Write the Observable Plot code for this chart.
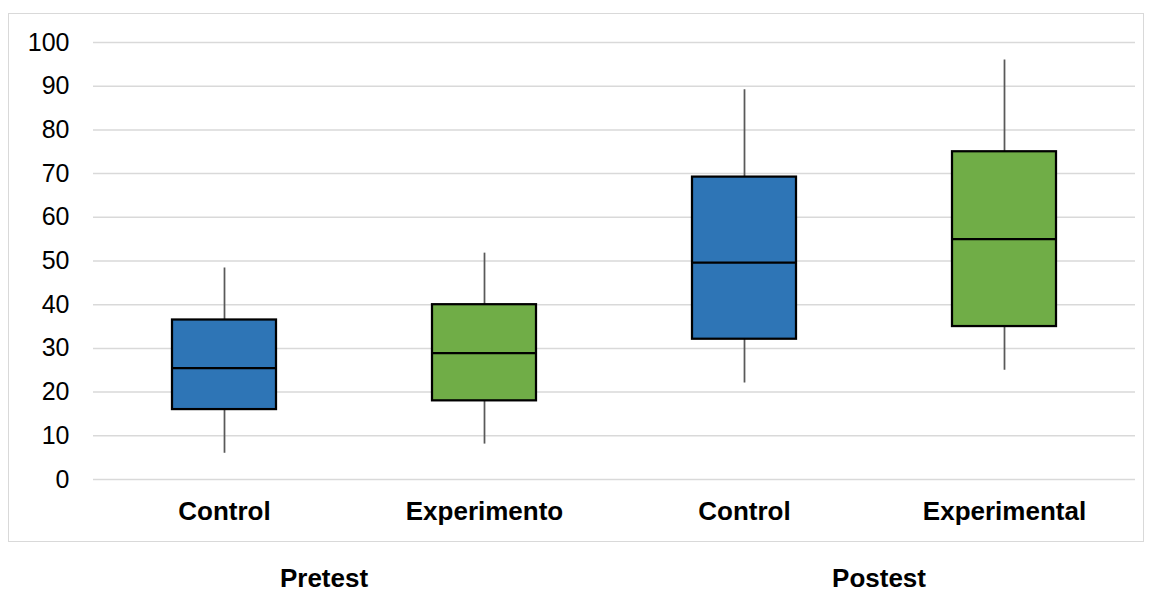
<!DOCTYPE html>
<html>
<head>
<meta charset="utf-8">
<script src="https://cdn.jsdelivr.net/npm/d3@7"></script>
<script src="https://cdn.jsdelivr.net/npm/@observablehq/plot@0.6"></script>
<style>
  html, body { margin: 0; padding: 0; background: #fff; overflow: hidden; }
  #wrap { position: relative; width: 1151px; height: 593px; font-family: "Liberation Sans", Arial, sans-serif; }
  #frame { position: absolute; left: 8px; top: 13px; width: 1134px; height: 527px; border: 1.5px solid #d9d9d9; box-sizing: content-box; pointer-events: none; }
  .grp { position: absolute; top: 567px; height: 22px; line-height: 22px; transform: translateX(-50%); font-weight: bold; font-size: 26px; color: #000; white-space: nowrap; }
</style>
</head>
<body>
<div id="wrap">
  <div id="chart"></div>
  <div id="frame"></div>
</div>
<script>
const groups   = ["Pretest", "Pretest", "Postest", "Postest"];
const labels   = ["Control", "Experimento", "Control", "Experimental"];
const mins     = [6.0, 8.1, 22.1, 25.0];
const q1s      = [16.0, 18.0, 32.1, 35.0];
const medians  = [25.5, 28.9, 49.6, 55.0];
const q3s      = [36.5, 40.0, 69.2, 75.0];
const maxs     = [48.4, 51.8, 89.2, 96.0];
const colors   = ["#2E75B6", "#70AD47", "#2E75B6", "#70AD47"];
const groupNames = ["Pretest", "Postest"];
const yTicks   = [0, 10, 20, 30, 40, 50, 60, 70, 80, 90, 100];

const data = labels.map((l, i) => ({
  key: groups[i] + "|" + l,
  label: l,
  min: mins[i], q1: q1s[i], med: medians[i], q3: q3s[i], max: maxs[i],
  fill: colors[i]
}));

const inset = 78;

const chart = Plot.plot({
  width: 1151,
  height: 593,
  marginLeft: 93,
  marginRight: 16,
  marginTop: 42,
  marginBottom: 114,
  style: { fontFamily: "'Liberation Sans', Arial, sans-serif", fontSize: "25px", color: "#000", background: "transparent" },
  x: { type: "band", domain: data.map(d => d.key), padding: 0 },
  y: { domain: [0, 100] },
  marks: [
    Plot.gridY(yTicks, { stroke: "#d9d9d9", strokeOpacity: 1, strokeWidth: 1.5 }),
    Plot.axisY(yTicks, { tickSize: 0, tickPadding: 24, label: null, fontSize: 25 }),
    Plot.axisX({ tickSize: 0, tickPadding: 22, label: null, fontSize: 26, fontWeight: "bold", tickFormat: d => d.split("|")[1] }),
    Plot.ruleX(data, { x: "key", y1: "min", y2: "max", stroke: "#595959", strokeWidth: 1.75 }),
    Plot.barY(data, { x: "key", y1: "q1", y2: "q3", fill: d => d.fill, stroke: "#000", strokeWidth: 2.25, insetLeft: inset, insetRight: inset }),
    Plot.tickY(data, { x: "key", y: "med", stroke: "#000", strokeWidth: 2.25, insetLeft: inset, insetRight: inset })
  ]
});
document.getElementById("chart").appendChild(chart);

// group labels under their pairs of categories
const wrap = document.getElementById("wrap");
const groupCenters = { "Pretest": 324, "Postest": 879 };
groupNames.forEach(g => {
  const div = document.createElement("div");
  div.className = "grp";
  div.textContent = g;
  div.style.left = groupCenters[g] + "px";
  wrap.appendChild(div);
});
</script>
</body>
</html>
